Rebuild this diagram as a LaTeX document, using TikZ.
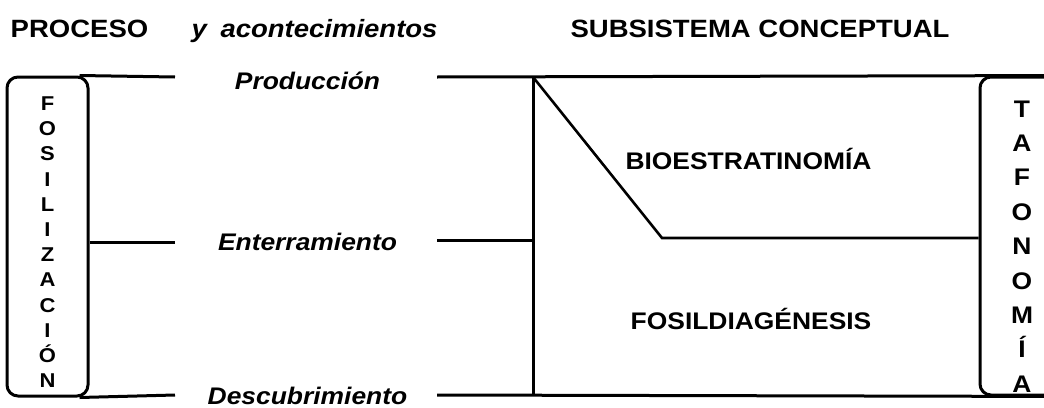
\documentclass[tikz,border=0pt]{standalone}
\usepackage{fontspec}
\setmainfont{Liberation Sans}[FakeStretch=1.1]
\usetikzlibrary{positioning}

\tikzset{
	heading/.style = {anchor = base, inner sep = 1pt, font = \fontsize{25}{30}\selectfont\bfseries},
	event/.style = {anchor = base, inner sep = 1pt, font = \fontsize{24}{28}\selectfont\bfseries\itshape},
	zone/.style = {anchor = base, font = \fontsize{24}{28}\selectfont\bfseries},
	frame/.style = {draw, rounded corners = 11pt, line width = 3pt},
	letter/.style = {anchor = base, inner sep = 0pt},
}

\begin{document}
\begin{tikzpicture}[x = 1pt, y = -1pt, line width = 3pt]

	\useasboundingbox (0, 0) rectangle (1044, 407);
	\clip (0, 0) rectangle (1044, 407);

	% Headings

	\node [heading] (proceso) at (79.5, 37) {PROCESO};
	\node [heading, anchor = base west, font = \fontsize{25}{30}\selectfont\bfseries\itshape] (acont) at (189, 37) {y\hspace{0.55em}acontecimientos};
	\node [heading] (subsis) at (760, 37) {SUBSISTEMA CONCEPTUAL};

	% The two framed columns

	\node [frame, minimum width = 81pt, minimum height = 319pt] (fosil) at (47.5, 236.5) {};
	\foreach \l [count = \i] in {F, O, S, I, L, I, Z, A, C, I, Ó, N}
		\node [letter, font = \fontsize{20}{22}\selectfont\bfseries] (fosil-\i) at (47.5, 110.5 + 25.2 * \i - 25.2) {\l};

	\node [frame, minimum width = 100pt, minimum height = 318pt] (tafo) at (1030, 236) {};
	\foreach \l [count = \i] in {T, A, F, O, N, O, M, Í, A}
		\node [letter, font = \fontsize{24}{26}\selectfont\bfseries] (tafo-\i) at (1022, 117 + 34.4 * \i - 34.4) {\l};

	% Events

	\node [event] (prod) at (307.5, 89) {Producción};
	\node [event] (enter) at (307.5, 250) {Enterramiento};
	\node [event] (descub) at (307.5, 404) {Descubrimiento};

	\coordinate (prod-w) at (175, 77);
	\coordinate (prod-e) at (437, 77);
	\coordinate (enter-w) at (175, 242);
	\coordinate (enter-e) at (437, 240);
	\coordinate (descub-w) at (175, 395);
	\coordinate (descub-e) at (437, 395);

	\draw ([xshift = -10pt] fosil.north east) -- (prod-w);
	\draw (fosil.east |- enter-w) -- (enter-w);
	\draw ([xshift = -10pt] fosil.south east) -- (descub-w);

	% Conceptual subsystem

	\coordinate (corner) at (533, 77);
	\coordinate (foot) at (533, 395);
	\coordinate (kink) at (662, 238);

	\draw (prod-e) -- (tafo.north east);
	\draw (descub-e) -- (tafo.south east);
	\draw (corner) -- (foot);
	\draw (enter-e) -- (corner |- enter-e);
	\draw [line width = 2.6pt] (corner) -- (kink) -- (tafo.west |- kink);

	\node [zone] (bioest) at (748.5, 169) {BIOESTRATINOMÍA};
	\node [zone] (diagen) at (751, 329) {FOSILDIAGÉNESIS};

\end{tikzpicture}
\end{document}
